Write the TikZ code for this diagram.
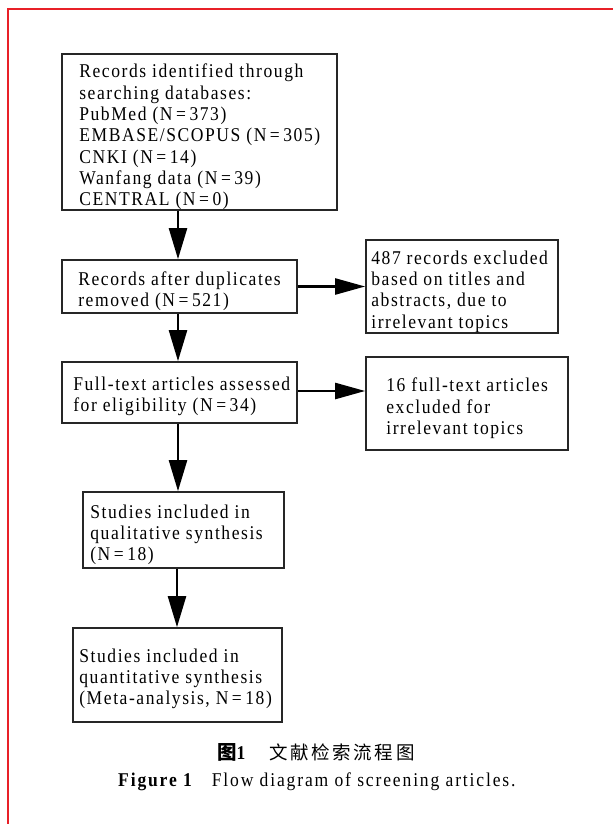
\documentclass[tikz,border=0pt]{standalone}
\usepackage{fontspec}
\setmainfont{Liberation Serif}[LetterSpace=8, FakeStretch=0.9]
\newfontfamily\capfont{Liberation Serif}[LetterSpace=9.5, FakeStretch=0.9]
\newfontfamily\cjk{Noto Sans CJK SC}[LetterSpace=14]
\usetikzlibrary{arrows.meta}
\definecolor{borderred}{RGB}{232,32,40}
\newcommand{\eqs}{\hspace{3.5pt}=\hspace{3.5pt}}
\begin{document}
\begin{tikzpicture}[x=1pt,y=-1pt,
  box/.style={draw=black!85, line width=1.7pt, inner sep=0pt},
  txt/.style={anchor=west, inner sep=0pt, align=left, font=\fontsize{19.5}{21.3}\selectfont},
  captxt/.style={anchor=west, inner sep=0pt, font=\capfont\fontsize{19.5}{21}\selectfont},
  arr/.style={line width=2.4pt, -{Triangle[length=31pt,width=18pt]}},
  harr/.style={line width=2.4pt, -{Triangle[length=30pt,width=16pt]}}]
\useasboundingbox (0,0) rectangle (613,824);
% red frame
\draw[borderred, line width=2pt] (8,824) -- (8,9) -- (613,9);
% boxes
\node[box, minimum width=275pt, minimum height=156pt] (b1) at (199.5,132) {};
\node[box, minimum width=235pt, minimum height=53pt] (b2) at (179.5,286.5) {};
\node[box, minimum width=235pt, minimum height=61pt] (b3) at (179.5,392.5) {};
\node[box, minimum width=201pt, minimum height=76pt] (b5) at (183.5,530) {};
\node[box, minimum width=209pt, minimum height=94pt] (b6) at (177.5,675) {};
\node[box, minimum width=192pt, minimum height=93pt] (b7) at (462,286.5) {};
\node[box, minimum width=202pt, minimum height=93pt] (b8) at (467,403.5) {};
% texts
\node[txt] (t1) at ([xshift=18pt,yshift=-5pt]b1.west) {Records identified through\\searching databases:\\PubMed (N\eqs373)\\EMBASE/SCOPUS (N\eqs305)\\CNKI (N\eqs14)\\Wanfang data (N\eqs39)\\CENTRAL (N\eqs0)};
\node[txt] (t2) at ([xshift=17pt,yshift=-5pt]b2.west) {Records after duplicates\\removed (N\eqs521)};
\node[txt] (t3) at ([xshift=12pt,yshift=-4pt]b3.west) {Full-text articles assessed\\for eligibility (N\eqs34)};
\node[txt] (t5) at ([xshift=8pt,yshift=-5pt]b5.west) {Studies included in\\qualitative synthesis\\(N\eqs18)};
\node[txt] (t6) at ([xshift=7pt,yshift=-4pt]b6.west) {Studies included in\\quantitative synthesis\\(Meta-analysis, N\eqs18)};
\node[txt] (t7) at ([xshift=6pt,yshift=-5pt]b7.west) {487 records excluded\\based on titles and\\abstracts, due to\\irrelevant topics};
\node[txt] (t8) at ([xshift=21pt,yshift=-5pt]b8.west) {16 full-text articles\\excluded for\\irrelevant topics};
% arrows
\coordinate (ax) at (178,0);
\coordinate (ax2) at (177,0);
\draw[arr] (b1.south -| ax) -- (b2.north -| ax);
\draw[arr] (b2.south -| ax) -- (b3.north -| ax);
\draw[arr] (b3.south -| ax) -- (b5.north -| ax);
\draw[arr] (b5.south -| ax2) -- (b6.north -| ax2);
\draw[harr] (b2.east) -- (b7.west);
\draw[harr] ([yshift=1.5pt]b3.east) -- ([yshift=1.5pt]b3.east -| b8.west);
% captions
\node[captxt] (c1) at (217,752) {{\cjk\bfseries 图}{\bfseries 1}\hspace{24pt}{\cjk\fontsize{18.5}{21}\selectfont 文献检索流程图}};
\node[captxt] (c2) at (118,782) {{\bfseries Figure 1}\hspace{20pt}Flow diagram of screening articles.};
\end{tikzpicture}
\end{document}
